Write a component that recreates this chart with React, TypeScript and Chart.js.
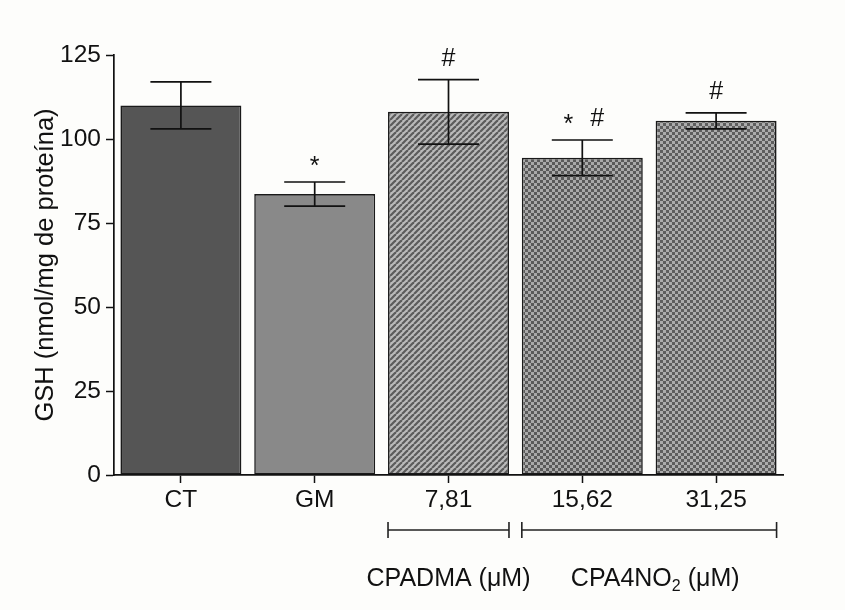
import React, { useEffect, useRef } from "react";
import { Chart, registerables } from "chart.js";

Chart.register(...registerables);

const categories = ["CT", "GM", "7,81", "15,62", "31,25"];
const means = [110, 83.6, 108.1, 94.4, 105.4];
const errors = [7, 3.6, 9.6, 5.3, 2.4];
const marks = ["", "*", "#", "* #", "#"];
const yMin = 0;
const yMax = 125;
const yStep = 25;
const yTitle = "GSH (nmol/mg de proteína)";
const groupLabels = ["CPADMA (μM)", "CPA4NO|2| (μM)"];
const groupFrom = [2, 3];
const groupTo = [2, 4];

const FONT = '"Liberation Sans", Arial, Helvetica, sans-serif';

function stripePattern(): CanvasPattern | string {
  const c = document.createElement("canvas");
  c.width = 6;
  c.height = 6;
  const g = c.getContext("2d");
  if (!g) return "#999";
  g.fillStyle = "#bababa";
  g.fillRect(0, 0, 6, 6);
  g.strokeStyle = "#5c5c5c";
  g.lineWidth = 2.2;
  for (const x0 of [-6, 0, 6]) {
    g.beginPath();
    g.moveTo(x0, 6);
    g.lineTo(x0 + 6, 0);
    g.stroke();
  }
  const p = g.createPattern(c, "repeat");
  return p || "#999";
}

function checkerPattern(cell: number, dark: string, light: string): CanvasPattern | string {
  const c = document.createElement("canvas");
  c.width = cell * 2;
  c.height = cell * 2;
  const g = c.getContext("2d");
  if (!g) return "#888";
  g.fillStyle = light;
  g.fillRect(0, 0, cell * 2, cell * 2);
  g.fillStyle = dark;
  g.fillRect(0, 0, cell, cell);
  g.fillRect(cell, cell, cell, cell);
  const p = g.createPattern(c, "repeat");
  return p || "#888";
}

export default function App() {
  const ref = useRef<HTMLCanvasElement | null>(null);

  useEffect(() => {
    document.body.style.margin = "0";
    document.body.style.background = "#fdfdfb";
    const canvas = ref.current;
    if (!canvas) return;

    const fills = [
      "#555555",
      "#898989",
      stripePattern(),
      checkerPattern(3, "#5a5a5a", "#a9a9a9"),
      checkerPattern(3, "#5e5e5e", "#acacac"),
    ];

    const overlay = {
      id: "overlay",
      afterDatasetsDraw(chart: any) {
        const ctx = chart.ctx;
        const xs = chart.scales.x;
        const ys = chart.scales.y;
        ctx.save();
        ctx.strokeStyle = "#111";
        ctx.lineWidth = 1.7;
        ctx.fillStyle = "#111";
        ctx.font = `25px ${FONT}`;
        ctx.textAlign = "center";
        ctx.textBaseline = "alphabetic";
        means.forEach((m, i) => {
          const x = xs.getPixelForValue(i);
          const yt = ys.getPixelForValue(m + errors[i]);
          const yb = ys.getPixelForValue(m - errors[i]);
          const half = 30.5;
          ctx.beginPath();
          ctx.moveTo(x, yt);
          ctx.lineTo(x, yb);
          ctx.moveTo(x - half, yt);
          ctx.lineTo(x + half, yt);
          ctx.moveTo(x - half, yb);
          ctx.lineTo(x + half, yb);
          ctx.stroke();
          const parts = marks[i].split(" ").filter((s) => s.length);
          const n = parts.length;
          parts.forEach((s, k) => {
            const dx = n > 1 ? (k === 0 ? -14 : 15) : 0;
            const base = s === "*" ? yt - 8 : yt - 14;
            ctx.fillText(s, x + dx, base);
          });
        });
        ctx.restore();
      },
      afterDraw(chart: any) {
        const ctx = chart.ctx;
        const xs = chart.scales.x;
        const area = chart.chartArea;
        ctx.save();
        ctx.fillStyle = "#111";
        ctx.font = `25.5px ${FONT}`;
        ctx.textAlign = "center";
        ctx.textBaseline = "middle";
        ctx.translate(46, (area.top + area.bottom) / 2);
        ctx.rotate(-Math.PI / 2);
        ctx.fillText(yTitle, 0, 0);
        ctx.restore();

        ctx.save();
        ctx.strokeStyle = "#222";
        ctx.lineWidth = 1.6;
        const step = xs.getPixelForValue(1) - xs.getPixelForValue(0);
        const halfBar = (step * 0.904) / 2;
        const lineY = 530;
        groupLabels.forEach((lab, gi) => {
          const x1 = xs.getPixelForValue(groupFrom[gi]) - halfBar;
          const x2 = xs.getPixelForValue(groupTo[gi]) + halfBar;
          ctx.beginPath();
          ctx.moveTo(x1, lineY);
          ctx.lineTo(x2, lineY);
          ctx.moveTo(x1, lineY - 8);
          ctx.lineTo(x1, lineY + 8);
          ctx.moveTo(x2, lineY - 8);
          ctx.lineTo(x2, lineY + 8);
          ctx.stroke();

          const segs = lab.split("|");
          const big = `25px ${FONT}`;
          const small = `16px ${FONT}`;
          let total = 0;
          const widths = segs.map((s, si) => {
            ctx.font = si % 2 === 1 ? small : big;
            const w = ctx.measureText(s).width;
            total += w;
            return w;
          });
          const cx = (x1 + x2) / 2 + (segs.length > 1 ? 6 : 0);
          let x = cx - total / 2;
          ctx.fillStyle = "#111";
          ctx.textAlign = "left";
          ctx.textBaseline = "alphabetic";
          segs.forEach((s, si) => {
            const sub = si % 2 === 1;
            ctx.font = sub ? small : big;
            ctx.fillText(s, x, sub ? 591 : 586);
            x += widths[si];
          });
        });
        ctx.restore();
      },
    };

    const chart = new Chart(canvas, {
      type: "bar",
      data: {
        labels: categories,
        datasets: [
          {
            data: means,
            backgroundColor: fills as any,
            borderColor: "#1a1a1a",
            borderWidth: 1.6,
            borderSkipped: false,
            barPercentage: 0.904,
            categoryPercentage: 1,
          },
        ],
      },
      options: {
        responsive: false,
        animation: false,
        layout: { padding: { left: 0, top: 55, right: 62, bottom: 0 } },
        plugins: {
          legend: { display: false },
          tooltip: { enabled: false },
        },
        scales: {
          x: {
            offset: true,
            grid: {
              offset: false,
              drawOnChartArea: false,
              drawTicks: true,
              tickLength: 8,
              tickColor: "#111",
              tickWidth: 1.5,
            },
            border: { color: "#111", width: 1.7 },
            ticks: {
              color: "#111",
              font: { family: FONT, size: 24.5 },
              padding: 3,
              maxRotation: 0,
            },
            afterFit(scale: any) {
              scale.height = 135;
            },
          },
          y: {
            min: yMin,
            max: yMax,
            grid: {
              drawOnChartArea: false,
              drawTicks: true,
              tickLength: 8,
              tickColor: "#111",
              tickWidth: 1.5,
            },
            border: { color: "#111", width: 1.7 },
            ticks: {
              stepSize: yStep,
              color: "#111",
              font: { family: FONT, size: 24.5 },
              padding: 5,
            },
            afterFit(scale: any) {
              scale.width = 114;
            },
          },
        },
      },
      plugins: [overlay],
    });

    return () => chart.destroy();
  }, []);

  return (
    <div style={{ width: 845, height: 610, background: "#fdfdfb" }}>
      <canvas ref={ref} width={845} height={610} />
    </div>
  );
}
